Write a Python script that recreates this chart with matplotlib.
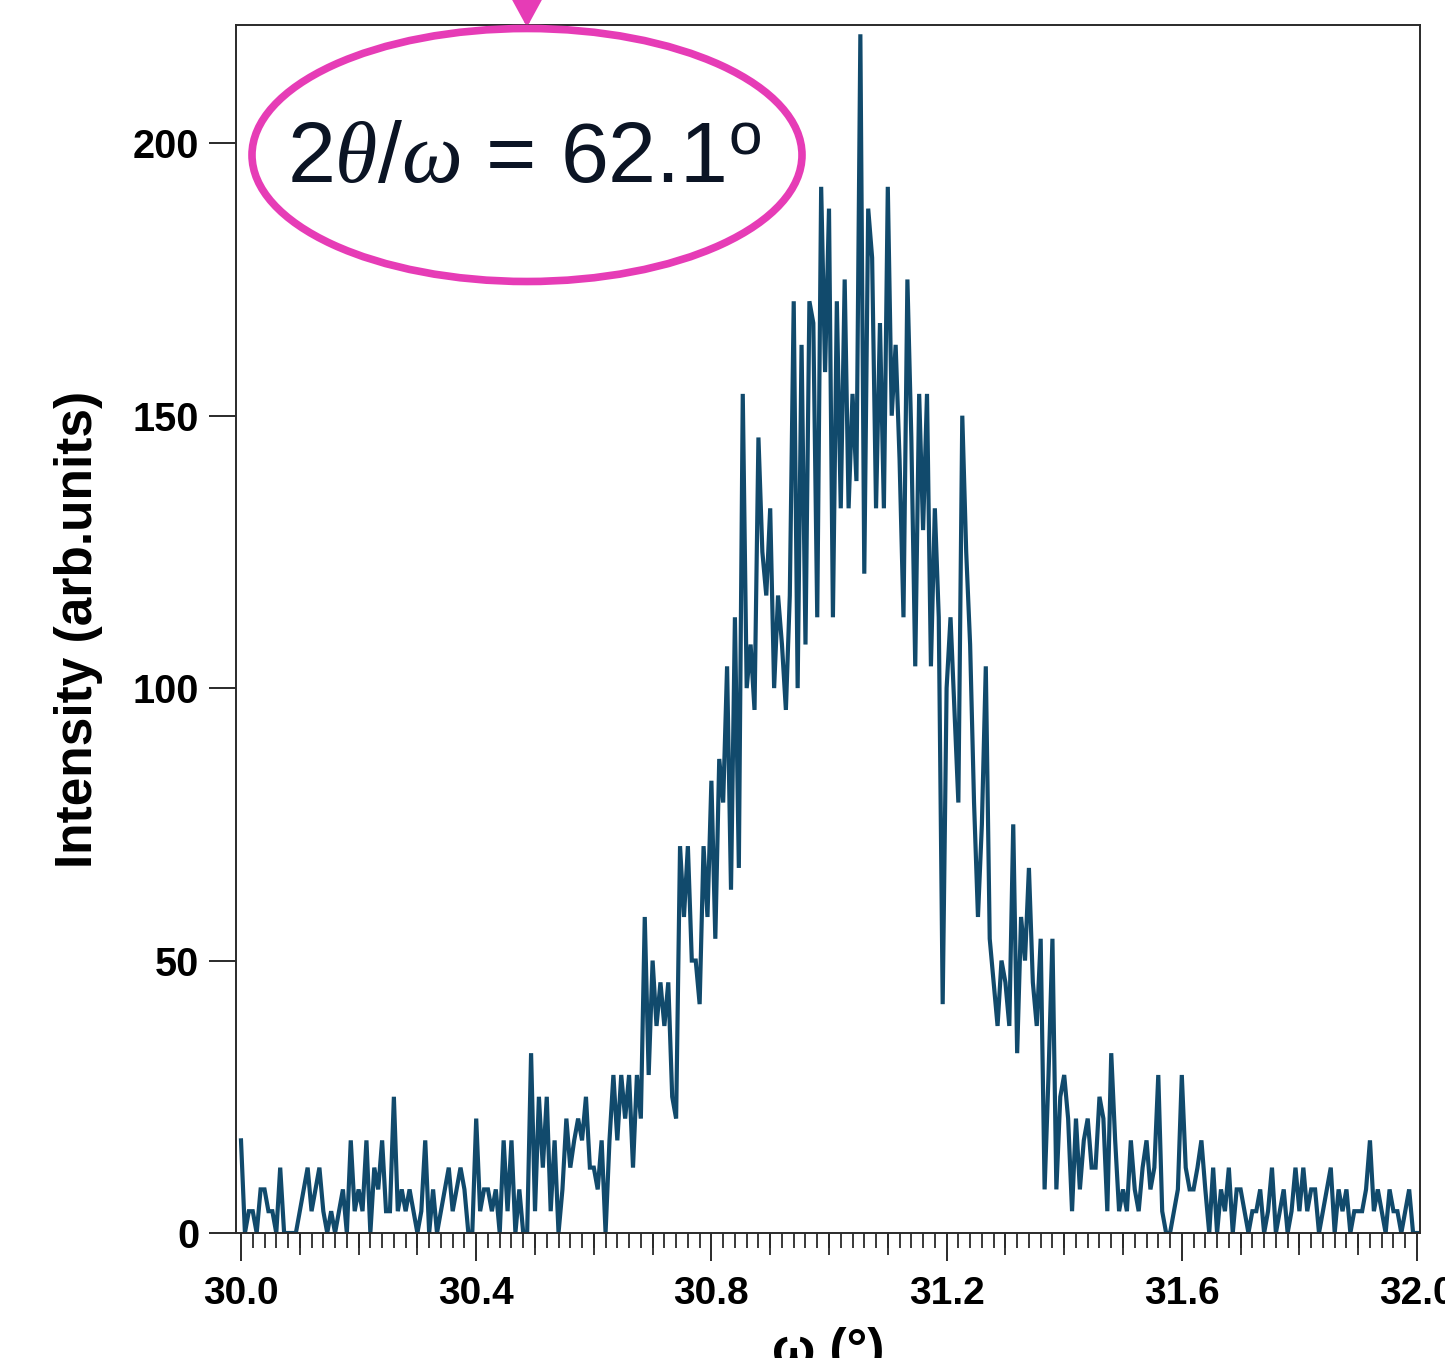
import numpy as np
import matplotlib
matplotlib.use("Agg")
import matplotlib.pyplot as plt
from matplotlib.patches import Ellipse
from matplotlib.ticker import MultipleLocator

plt.rcParams['font.family'] = ['Liberation Sans', 'DejaVu Sans']
plt.rcParams['mathtext.fontset'] = 'custom'
plt.rcParams['mathtext.rm'] = 'Liberation Sans'
plt.rcParams['mathtext.it'] = 'Liberation Serif:italic'
plt.rcParams['mathtext.sf'] = 'Liberation Sans'

# ---- data ----
omega = np.linspace(30.0, 32.0, 301)
intensity = [
    17, 0, 4, 4, 0, 8, 8, 4, 4, 0,
    12, 0, 0, 0, 0, 4, 8, 12, 4, 8,
    12, 4, 0, 4, 0, 4, 8, 0, 17, 4,
    8, 4, 17, 0, 12, 8, 17, 4, 4, 25,
    4, 8, 4, 8, 4, 0, 4, 17, 0, 8,
    0, 4, 8, 12, 4, 8, 12, 8, 0, 0,
    21, 4, 8, 8, 4, 8, 0, 17, 4, 17,
    0, 8, 0, 0, 33, 4, 25, 12, 25, 4,
    17, 0, 8, 21, 12, 17, 21, 17, 25, 12,
    12, 8, 17, 0, 17, 29, 17, 29, 21, 29,
    12, 29, 21, 58, 29, 50, 38, 46, 38, 46,
    25, 21, 71, 58, 71, 50, 50, 42, 71, 58,
    83, 54, 87, 79, 104, 63, 113, 67, 154, 100,
    108, 96, 146, 125, 117, 133, 100, 117, 108, 96,
    117, 171, 100, 163, 108, 171, 167, 113, 192, 158,
    188, 113, 171, 133, 175, 133, 154, 138, 220, 121,
    188, 179, 133, 167, 133, 192, 150, 163, 142, 113,
    175, 146, 104, 154, 129, 154, 104, 133, 113, 42,
    100, 113, 96, 79, 150, 125, 108, 79, 58, 75,
    104, 54, 46, 38, 50, 46, 38, 75, 33, 58,
    50, 67, 46, 38, 54, 8, 29, 54, 8, 25,
    29, 21, 4, 21, 8, 17, 21, 12, 12, 25,
    21, 4, 33, 17, 4, 8, 4, 17, 8, 4,
    12, 17, 8, 12, 29, 4, 0, 0, 4, 8,
    29, 12, 8, 8, 12, 17, 8, 0, 12, 0,
    8, 4, 12, 0, 8, 8, 4, 0, 4, 4,
    8, 0, 4, 12, 0, 4, 8, 0, 4, 12,
    4, 12, 4, 8, 8, 0, 4, 8, 12, 0,
    8, 4, 8, 0, 4, 4, 4, 8, 17, 4,
    8, 4, 0, 8, 4, 4, 0, 4, 8, 0,
    0,
]
x_major = [30.0, 30.4, 30.8, 31.2, 31.6, 32.0]
x_major_labels = ["30.0", "30.4", "30.8", "31.2", "31.6", "32.0"]
y_ticks = [0, 50, 100, 150, 200]
y_tick_labels = ["0", "50", "100", "150", "200"]
x_medium = [30.1, 30.2, 30.3, 30.5, 30.6, 30.7, 30.9, 31.0, 31.1,
            31.3, 31.4, 31.5, 31.7, 31.8, 31.9]
annotation_text = r"2$\theta$/$\omega$ = 62.1$^{\mathrm{o}}$"
xlabel = "ω (°)"
ylabel = "Intensity (arb.units)"

W, H = 1445, 1358
fig = plt.figure(figsize=(W / 100, H / 100), dpi=100)
ax = fig.add_axes([236 / W, (H - 1233) / H, (1420 - 236) / W, (1233 - 25) / H])

line_color = "#114a6c"
ax.plot(omega, intensity, color=line_color, lw=3.0, solid_joinstyle="miter")

ax.set_xlim(30.0 - 5 / 588, 32.0 + 3 / 588)
ax.set_ylim(0, 221.7)

for s in ax.spines.values():
    s.set_color("#2a2a2a")
    s.set_linewidth(1.4)

ax.set_xticks(x_major)
ax.set_xticklabels(x_major_labels)
ax.xaxis.set_minor_locator(MultipleLocator(0.02))
ax.set_yticks(y_ticks)
ax.set_yticklabels(y_tick_labels)
ax.tick_params(axis="x", which="major", direction="out", length=20, width=1.4,
               pad=11, labelsize=28, color="#2a2a2a")
ax.tick_params(axis="x", which="minor", direction="out", length=10.5, width=1.3,
               color="#2a2a2a")
ax.tick_params(axis="y", which="major", direction="out", length=19.5, width=1.4,
               pad=7, labelsize=28.5, color="#2a2a2a")
for lab in ax.get_xticklabels() + ax.get_yticklabels():
    lab.set_fontweight("bold")

sec = ax.secondary_xaxis("bottom")
sec.set_xticks(x_medium)
sec.tick_params(axis="x", direction="out", length=15.5, width=1.3,
                labelbottom=False, color="#2a2a2a")
sec.spines["bottom"].set_visible(False)

ax.set_ylabel(ylabel, fontsize=37, fontweight="bold")
ax.yaxis.set_label_coords(-0.112, 0.5)
ax.set_xlabel(xlabel, fontsize=37, fontweight="bold", va="top")
ax.xaxis.set_label_coords(0.5, -0.078)

# annotation ellipse and text
pink = "#e63cb6"
ell = Ellipse((527 / W, (H - 155) / H), 550 / W, 253 / H,
              transform=fig.transFigure, facecolor="none",
              edgecolor=pink, lw=5.5, zorder=10)
fig.add_artist(ell)
fig.text(524 / W, (H - 182) / H, annotation_text, fontsize=62,
         ha="center", va="baseline", color="#0b1424", zorder=11)

ax.annotate("", xy=(527, H - 30), xycoords="figure pixels",
            xytext=(527, H + 120), textcoords="figure pixels",
            arrowprops=dict(arrowstyle="-|>,head_length=1.1,head_width=0.6",
                            mutation_scale=20, color=pink, lw=4),
            annotation_clip=False)

fig.savefig("out.png", dpi=100)
